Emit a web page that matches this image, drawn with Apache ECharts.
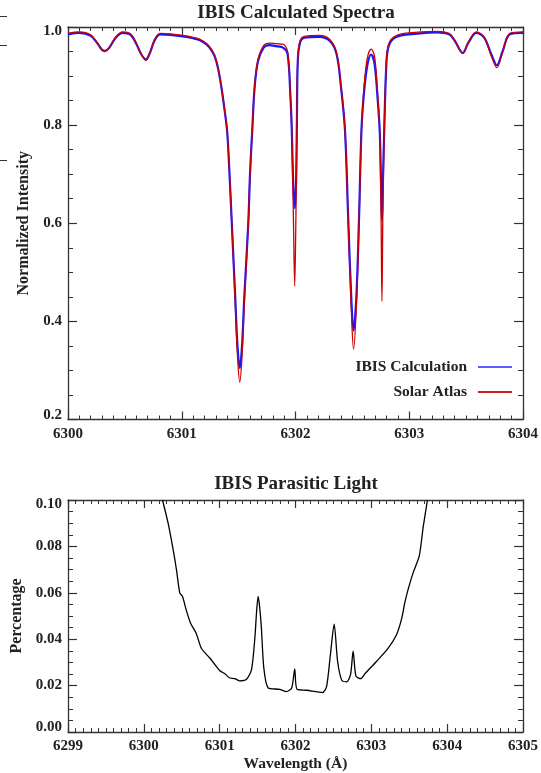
<!DOCTYPE html>
<html><head><meta charset="utf-8">
<script src="https://cdn.jsdelivr.net/npm/echarts@6/dist/echarts.min.js"></script>
<style>html,body{margin:0;padding:0;background:#fff}#c{width:541px;height:773px}</style>
</head><body><div id="c"></div>
<script>
// ---- Data ----
const spectraWavelength = [6300.00,6300.10,6300.20,6300.26,6300.30,6300.325,6300.36,6300.42,6300.48,6300.55,6300.60,6300.645,6300.685,6300.72,6300.76,6300.81,6300.90,6301.01,6301.10,6301.16,6301.22,6301.26,6301.29,6301.32,6301.35,6301.38,6301.40,6301.42,6301.44,6301.47,6301.49,6301.51,6301.53,6301.55,6301.585,6301.60,6301.62,6301.64,6301.67,6301.72,6301.77,6301.83,6301.89,6301.93,6301.955,6301.966,6301.981,6301.993,6302.004,6302.012,6302.02,6302.04,6302.08,6302.21,6302.30,6302.36,6302.40,6302.435,6302.464,6302.49,6302.51,6302.535,6302.558,6302.58,6302.60,6302.63,6302.665,6302.695,6302.72,6302.74,6302.752,6302.76,6302.768,6302.78,6302.80,6302.82,6302.86,6302.93,6303.05,6303.24,6303.35,6303.40,6303.47,6303.52,6303.59,6303.66,6303.72,6303.77,6303.82,6303.885,6304.00];
const ibisCalculation = [0.985,0.988,0.982,0.966,0.953,0.951,0.957,0.978,0.988,0.984,0.966,0.944,0.934,0.947,0.972,0.985,0.984,0.981,0.977,0.973,0.964,0.953,0.940,0.915,0.875,0.825,0.785,0.70,0.60,0.45,0.35,0.305,0.35,0.45,0.60,0.70,0.79,0.875,0.93,0.958,0.963,0.961,0.958,0.946,0.86,0.80,0.674,0.631,0.674,0.80,0.93,0.968,0.978,0.980,0.972,0.946,0.878,0.79,0.606,0.45,0.381,0.45,0.606,0.79,0.86,0.92,0.944,0.925,0.86,0.79,0.68,0.606,0.68,0.79,0.93,0.962,0.976,0.983,0.986,0.989,0.985,0.972,0.947,0.968,0.988,0.978,0.945,0.922,0.950,0.985,0.988];
const solarAtlas = [0.987,0.990,0.984,0.967,0.954,0.952,0.958,0.980,0.990,0.986,0.967,0.944,0.932,0.947,0.974,0.987,0.986,0.983,0.979,0.975,0.966,0.955,0.942,0.915,0.875,0.825,0.785,0.70,0.60,0.44,0.33,0.276,0.33,0.44,0.60,0.70,0.79,0.878,0.933,0.962,0.967,0.966,0.965,0.950,0.86,0.80,0.62,0.472,0.62,0.80,0.935,0.972,0.981,0.983,0.975,0.948,0.878,0.79,0.60,0.43,0.343,0.43,0.60,0.79,0.87,0.935,0.955,0.94,0.87,0.79,0.62,0.441,0.62,0.79,0.935,0.966,0.979,0.986,0.989,0.991,0.987,0.973,0.946,0.969,0.990,0.979,0.942,0.917,0.948,0.987,0.990];
const parasiticWavelength = [6300.246,6300.32,6300.386,6300.43,6300.474,6300.51,6300.56,6300.615,6300.69,6300.76,6300.87,6301.00,6301.07,6301.125,6301.20,6301.266,6301.354,6301.42,6301.464,6301.487,6301.507,6301.527,6301.55,6301.582,6301.64,6301.79,6301.88,6301.95,6301.99,6302.02,6302.146,6302.357,6302.41,6302.46,6302.51,6302.555,6302.61,6302.675,6302.726,6302.76,6302.797,6302.86,6302.915,6303.07,6303.22,6303.33,6303.40,6303.443,6303.487,6303.553,6303.632,6303.685,6303.74];
const parasiticLight = [0.100,0.090,0.0787,0.070,0.060,0.0584,0.0525,0.047,0.0426,0.036,0.0319,0.0265,0.0251,0.0234,0.023,0.022,0.0227,0.0269,0.0404,0.052,0.0584,0.054,0.045,0.0277,0.019,0.0184,0.0174,0.019,0.0272,0.0184,0.018,0.017,0.0196,0.0333,0.0465,0.0305,0.0223,0.0216,0.0248,0.0348,0.0241,0.023,0.0251,0.0305,0.036,0.0418,0.0489,0.056,0.0617,0.0688,0.0759,0.0886,0.100];
const topXTicks = {min: 6300, max: 6304, interval: 1};
const topYTicks = {min: 0.2, max: 1.0, interval: 0.2};
const botXTicks = {min: 6299, max: 6305, interval: 1};
const botYTicks = {min: 0, max: 0.1, interval: 0.02};
const titles = ['IBIS Calculated Spectra', 'IBIS Parasitic Light'];
const seriesNames = ['IBIS Calculation', 'Solar Atlas'];

// ---- Chart ----
const FONT = '"Liberation Serif","Times New Roman",serif';
const TXT = '#222';
const AX = '#333';
const chart = echarts.init(document.getElementById('c'), null, {renderer: 'canvas'});
const pair = (xs, ys) => xs.map((x, i) => [x, ys[i]]);
const labelFont = {color: TXT, fontFamily: FONT, fontWeight: 'bold', fontSize: 15};

function xAxis(grid, t, pos, show, name) {
  return {
    type: 'value', gridIndex: grid, position: pos, min: t.min, max: t.max, interval: t.interval,
    axisLine: {show: true, onZero: false, lineStyle: {color: AX, width: 1.3}},
    axisTick: {show: true, inside: true, length: 8, lineStyle: {color: AX, width: 1.2}},
    minorTick: {show: true, splitNumber: 10, length: 4, lineStyle: {color: AX, width: 1}},
    splitLine: {show: false}, minorSplitLine: {show: false},
    axisLabel: Object.assign({show: show, margin: 7, formatter: v => String(Math.round(v))}, labelFont),
    name: name || '', nameLocation: 'middle', nameGap: 24,
    nameTextStyle: {color: TXT, fontFamily: FONT, fontWeight: 'bold', fontSize: 15.5}
  };
}
function yAxis(grid, t, pos, show, name, dec, gap) {
  return {
    type: 'value', gridIndex: grid, position: pos, min: t.min, max: t.max, interval: t.interval,
    axisLine: {show: true, onZero: false, lineStyle: {color: AX, width: 1.3}},
    axisTick: {show: true, inside: true, length: 9, lineStyle: {color: AX, width: 1.2}},
    minorTick: {show: true, splitNumber: 4, length: 5, lineStyle: {color: AX, width: 1}},
    splitLine: {show: false}, minorSplitLine: {show: false},
    axisLabel: Object.assign({show: show, margin: 6,
      formatter: v => {
        const s = v.toFixed(dec);
        if (Math.abs(v - t.max) < 1e-9) return '{hi|' + s + '}';
        if (Math.abs(v - t.min) < 1e-9) return '{lo|' + s + '}';
        return s;
      },
      rich: {
        hi: Object.assign({padding: [9, 0, 0, 0]}, labelFont),
        lo: Object.assign({padding: [0, 0, 9, 0]}, labelFont)
      }}, labelFont),
    name: name || '', nameLocation: 'middle', nameGap: gap || 38, nameRotate: 90,
    nameTextStyle: {color: TXT, fontFamily: FONT, fontWeight: 'bold', fontSize: 16}
  };
}

chart.setOption({
  animation: false,
  backgroundColor: '#fff',
  title: [
    {text: titles[0], left: 296, textAlign: 'center', top: 4, padding: 0,
     textStyle: {color: TXT, fontFamily: FONT, fontWeight: 'bold', fontSize: 19}},
    {text: titles[1], left: 296, textAlign: 'center', top: 475, padding: 0,
     textStyle: {color: TXT, fontFamily: FONT, fontWeight: 'bold', fontSize: 19}}
  ],
  grid: [
    {left: 68, right: 18, top: 27, height: 392.5},
    {left: 68, right: 18, top: 500, height: 235}
  ],
  xAxis: [
    xAxis(0, topXTicks, 'bottom', true),
    xAxis(0, topXTicks, 'top', false),
    xAxis(1, botXTicks, 'bottom', true, 'Wavelength (Å)'),
    xAxis(1, botXTicks, 'top', false)
  ],
  yAxis: [
    yAxis(0, topYTicks, 'left', true, 'Normalized Intensity', 1, 36),
    yAxis(0, topYTicks, 'right', false, '', 1),
    yAxis(1, botYTicks, 'left', true, 'Percentage', 2, 42),
    yAxis(1, botYTicks, 'right', false, '', 2)
  ],
  legend: {
    orient: 'vertical', right: 24, top: 354, align: 'right', itemGap: 9,
    itemWidth: 34, itemHeight: 2, icon: 'rect',
    textStyle: {color: TXT, fontFamily: FONT, fontWeight: 'bold', fontSize: 15.5, padding: [0, 6, 0, 0]},
    data: [
      {name: seriesNames[0], itemStyle: {color: '#5b5bff'}},
      {name: seriesNames[1], itemStyle: {color: '#cc2222'}}
    ]
  },
  graphic: [
    {type: 'line', shape: {x1: 0, y1: 16.5, x2: 7, y2: 16.5}, style: {stroke: '#333', lineWidth: 1}},
    {type: 'line', shape: {x1: 0, y1: 45.5, x2: 7, y2: 45.5}, style: {stroke: '#333', lineWidth: 1}},
    {type: 'line', shape: {x1: 0, y1: 160.5, x2: 7, y2: 160.5}, style: {stroke: '#333', lineWidth: 1}}
  ],
  series: [
    {name: seriesNames[0], type: 'line', xAxisIndex: 0, yAxisIndex: 0, data: pair(spectraWavelength, ibisCalculation),
     showSymbol: false, smooth: 0.35, lineStyle: {color: '#1515ff', width: 2.2}, itemStyle: {color: '#1515ff'}, z: 2},
    {name: seriesNames[1], type: 'line', xAxisIndex: 0, yAxisIndex: 0, data: pair(spectraWavelength, solarAtlas),
     showSymbol: false, smooth: 0.35, lineStyle: {color: '#cc0000', width: 1.3}, itemStyle: {color: '#cc0000'}, z: 3},
    {name: 'Parasitic', type: 'line', xAxisIndex: 2, yAxisIndex: 2, data: pair(parasiticWavelength, parasiticLight),
     showSymbol: false, smooth: 0.25, lineStyle: {color: '#000', width: 1.3}, z: 2}
  ]
});
</script>
</body></html>
